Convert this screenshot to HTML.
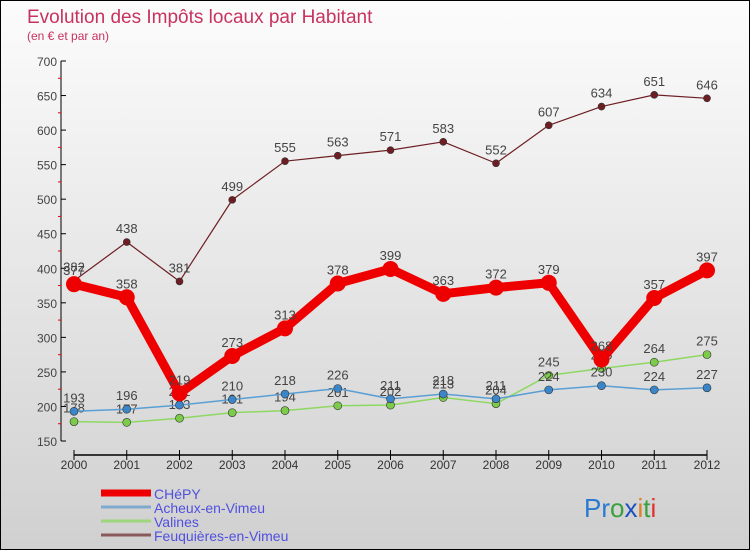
<!DOCTYPE html>
<html><head><meta charset="utf-8"><style>
body{margin:0}
#wrap{width:750px;height:550px;position:relative;overflow:hidden;background:linear-gradient(#fcfcfc,#d0d0d0);box-sizing:border-box;border:1px solid #000;font-family:"Liberation Sans",sans-serif}
svg{position:absolute;left:0;top:0}
</style></head><body>
<div id="wrap">
<svg id="s" width="750" height="550">
<text x="26" y="22" font-size="19" fill="#c8325f">Evolution des Impôts locaux par Habitant</text>
<text x="26" y="39" font-size="12" fill="#c8325f">(en € et par an)</text>
</svg>
</div>
<script>
const years=[2000,2001,2002,2003,2004,2005,2006,2007,2008,2009,2010,2011,2012];
const yTicks=[150,200,250,300,350,400,450,500,550,600,650,700];
const chepy=[377,358,219,273,313,378,399,363,372,379,268,357,397];
const acheux=[193,196,202,210,218,226,211,218,211,224,230,224,227];
const valines=[178,177,183,191,194,201,202,213,204,245,255,264,275];
const feuq=[382,438,381,499,555,563,571,583,552,607,634,651,646];
const names=["CHéPY","Acheux-en-Vimeu","Valines","Feuquières-en-Vimeu"];
const s=document.getElementById('s');const NS="http://www.w3.org/2000/svg";
function X(i){return 73+i*(706-73)/(years.length-1);}
function Y(v){return 440-(v-150)*380/550;}
function el(t,a,p){const e=document.createElementNS(NS,t);for(const k in a)e.setAttribute(k,a[k]);(p||s).appendChild(e);return e;}
let e=el('line',{x1:60,y1:60,x2:60,y2:440,stroke:'#000'});


e=el('line',{x1:73,y1:454,x2:706,y2:454,stroke:'#000','stroke-width':1.5});


yTicks.forEach((v,i)=>{
 el('line',{x1:60,y1:Y(v),x2:65,y2:Y(v),stroke:'#000'});
 if(i<yTicks.length-1)el('line',{x1:57,y1:Y(v+25),x2:60,y2:Y(v+25),stroke:'#e00'});
 const t=el('text',{x:56,y:Y(v)+5,'text-anchor':'end','font-size':12,fill:'#444'});t.textContent=v;
 
 
});
years.forEach((y,i)=>{
 el('line',{x1:X(i),y1:449,x2:X(i),y2:459,stroke:'#000'});
 const t=el('text',{x:X(i),y:468,'text-anchor':'middle','font-size':12,fill:'#333'});t.textContent=y;
 
 
});
const series=[[feuq,'#6e1e23',1.2,3.5,'#6e1e23'],[valines,'#8ed862',1.5,4,'#7ccc4a'],[acheux,'#5a9fd4',1.5,4,'#3a86c8'],[chepy,'#ee0000',9,8,'#ee0000']];
series.forEach((sr,k)=>{
 const [d,c,w,r,fc]=sr;
 const g=el('g',{});
 
 
 el('polyline',{points:d.map((v,i)=>X(i)+','+Y(v)).join(' '),fill:'none',stroke:c,'stroke-width':w,'stroke-linejoin':'round'},g);
 d.forEach((v,i)=>{
  const p=el('circle',{cx:X(i),cy:Y(v),r:r,fill:fc,stroke:k==3?'none':'#333','stroke-width':0.6},g);
  
  
  const t=el('text',{x:X(i),y:Y(v)-9,'text-anchor':'middle','font-size':13,fill:'#444'},g);t.textContent=v;
  
  
 });
});
const leg=[['#ee0000',7],['#7fa9cf',3],['#9ed67c',3],['#8a5a5a',3]];
leg.forEach((l,i)=>{
 const y=492+i*14;
 const g=el('g',{});
 
 
 el('line',{x1:100,y1:y,x2:150,y2:y,stroke:l[0],'stroke-width':l[1]},g);
 const t=el('text',{x:153,y:y+6,'font-size':14,fill:'#5050e0'},g);t.textContent=names[i];
});
const lg=el('text',{x:583,y:516,'font-size':26});


[['Pr','#2a7ad0'],['o','#3aa040'],['x','#1a4fc0'],['i','#e08020'],['t','#3aa040'],['i','#e03030']].forEach(a=>{const ts=el('tspan',{fill:a[1]},lg);ts.textContent=a[0];});
</script>
</body></html>
